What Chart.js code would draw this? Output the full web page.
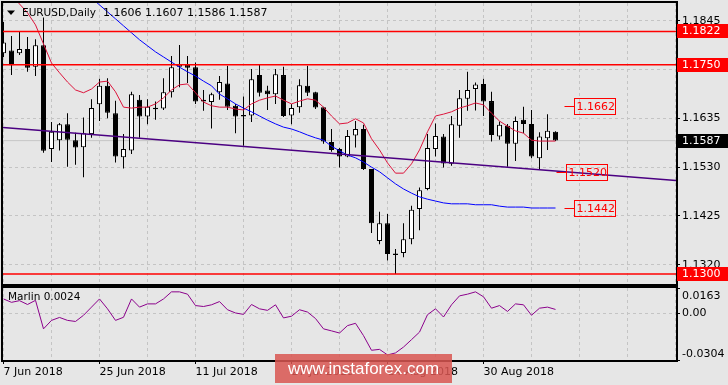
<!DOCTYPE html>
<html>
<head>
<meta charset="utf-8">
<script src="https://cdn.jsdelivr.net/npm/chart.js@4.4.1/dist/chart.umd.min.js"></script>
<style>
  body { margin: 0; background: #e6e6e6; }
  #page { position: relative; width: 728px; height: 385px; overflow: hidden; background: #e6e6e6; }
  #priceBox { position: absolute; left: 0; top: 0; }
  #marlinBox { position: absolute; left: 0; top: 286px; }
  #stamp {
    position: absolute; left: 275px; top: 354px; width: 177px; height: 29px;
    background: rgba(216, 86, 82, 0.86); color: #fff;
    font: 17px "Liberation Sans", sans-serif; line-height: 29px; text-align: center;
  }
</style>
</head>
<body>
<div id="page">
  <div id="priceBox"><canvas id="priceChart" width="728" height="286"></canvas></div>
  <div id="marlinBox"><canvas id="marlinChart" width="728" height="99"></canvas></div>
  <div id="stamp">www.instaforex.com</div>
</div>
<script>
Chart.defaults.font.family = "'DejaVu Sans', sans-serif";
Chart.defaults.font.size = 11;
Chart.defaults.color = '#000';

// DATA - daily candles, 7 Jun 2018 .. 12 Sep 2018
const opens = [
  1.1775, 1.1781, 1.1775, 1.1784, 1.1746, 1.1792, 1.1569, 1.1588, 1.1622, 1.1588,
  1.1573, 1.1601, 1.1665, 1.1705, 1.1646, 1.1551, 1.1566, 1.1675, 1.1639, 1.1657,
  1.1656, 1.1691, 1.1746, 1.1750, 1.1745, 1.1675, 1.1670, 1.1691, 1.1710, 1.1662,
  1.1642, 1.1641, 1.1728, 1.1695, 1.1687, 1.1728, 1.1641, 1.1659, 1.1705, 1.1691,
  1.1659, 1.1584, 1.1569, 1.1553, 1.1598, 1.1612, 1.1526, 1.1371, 1.1409, 1.1342,
  1.1345, 1.1375, 1.1440, 1.1483, 1.1569, 1.1596, 1.1537, 1.1619, 1.1677, 1.1698,
  1.1709, 1.1672, 1.1596, 1.1619, 1.1580, 1.1632, 1.1623, 1.1549, 1.1592, 1.1606
];
const highs = [
  1.1842, 1.1812, 1.1821, 1.1810, 1.1805, 1.1852, 1.1627, 1.1625, 1.1646, 1.1604,
  1.1637, 1.1676, 1.1720, 1.1721, 1.1673, 1.1601, 1.1692, 1.1685, 1.1676, 1.1671,
  1.1721, 1.1769, 1.1793, 1.1769, 1.1755, 1.1696, 1.1690, 1.1726, 1.1748, 1.1666,
  1.1682, 1.1741, 1.1750, 1.1705, 1.1741, 1.1746, 1.1666, 1.1719, 1.1748, 1.1692,
  1.1660, 1.1612, 1.1571, 1.1610, 1.1629, 1.1621, 1.1526, 1.1434, 1.1429, 1.1354,
  1.1409, 1.1447, 1.1486, 1.1601, 1.1624, 1.1601, 1.1640, 1.1696, 1.1735, 1.1712,
  1.1720, 1.1692, 1.1628, 1.1623, 1.1639, 1.1660, 1.1653, 1.1605, 1.1644, 1.1607
];
const lows = [
  1.1767, 1.1728, 1.1771, 1.1735, 1.1726, 1.1561, 1.1541, 1.1566, 1.1531, 1.1535,
  1.1508, 1.1593, 1.1629, 1.1635, 1.1540, 1.1527, 1.1558, 1.1593, 1.1622, 1.1632,
  1.1653, 1.1680, 1.1702, 1.1711, 1.1666, 1.1651, 1.1613, 1.1675, 1.1653, 1.1603,
  1.1576, 1.1627, 1.1682, 1.1653, 1.1666, 1.1638, 1.1622, 1.1647, 1.1683, 1.1655,
  1.1580, 1.1563, 1.1529, 1.1551, 1.1572, 1.1524, 1.1388, 1.1364, 1.1329, 1.1300,
  1.1336, 1.1364, 1.1394, 1.1480, 1.1553, 1.1529, 1.1533, 1.1593, 1.1651, 1.1652,
  1.1640, 1.1585, 1.1589, 1.1531, 1.1543, 1.1603, 1.1549, 1.1524, 1.1567, 1.1586
];
const closes = [
  1.1798, 1.1749, 1.1784, 1.1744, 1.1792, 1.1565, 1.1606, 1.1622, 1.1589, 1.1572,
  1.1603, 1.1657, 1.1705, 1.1647, 1.1553, 1.1569, 1.1687, 1.1639, 1.1660, 1.1655,
  1.1691, 1.1745, 1.1751, 1.1744, 1.1671, 1.1671, 1.1687, 1.1713, 1.1660, 1.1639,
  1.1639, 1.1719, 1.1690, 1.1687, 1.1730, 1.1640, 1.1657, 1.1706, 1.1690, 1.1658,
  1.1585, 1.1567, 1.1553, 1.1597, 1.1612, 1.1526, 1.1409, 1.1409, 1.1343, 1.1343,
  1.1375, 1.1438, 1.1480, 1.1571, 1.1597, 1.1538, 1.1622, 1.1678, 1.1696, 1.1708,
  1.1671, 1.1599, 1.1621, 1.1580, 1.1629, 1.1623, 1.1553, 1.1596, 1.1608, 1.1587
];

// moving averages as drawn on the chart
const redMA = [
  1.1918, 1.1900, 1.1881, 1.1862, 1.1836, 1.1795, 1.1754, 1.1733, 1.1713, 1.1696,
  1.1690, 1.1698, 1.1713, 1.1715, 1.1692, 1.1659, 1.1657, 1.1659, 1.1659, 1.1666,
  1.1679, 1.1696, 1.1707, 1.1709, 1.1690, 1.1670, 1.1662, 1.1659, 1.1659, 1.1655,
  1.1653, 1.1666, 1.1674, 1.1679, 1.1683, 1.1674, 1.1666, 1.1672, 1.1677, 1.1674,
  1.1659, 1.1640, 1.1623, 1.1625, 1.1634, 1.1625, 1.1591, 1.1567, 1.1539, 1.1517,
  1.1517, 1.1537, 1.1567, 1.1606, 1.1640, 1.1644, 1.1649, 1.1657, 1.1662, 1.1668,
  1.1664, 1.1646, 1.1629, 1.1618, 1.1608, 1.1603, 1.1588, 1.1586, 1.1586, 1.1586
];
const blueMA = [
  1.2060, 1.2044, 1.2029, 1.2014, 1.1999, 1.1984, 1.1969, 1.1954, 1.1939, 1.1924,
  1.1909, 1.1894, 1.1879, 1.1864, 1.1849, 1.1834, 1.1819, 1.1804, 1.1791, 1.1778,
  1.1767, 1.1756, 1.1745, 1.1735, 1.1726, 1.1715, 1.1705, 1.1687, 1.1677, 1.1666,
  1.1657, 1.1649, 1.1640, 1.1631, 1.1623, 1.1616, 1.1612, 1.1606, 1.1599, 1.1593,
  1.1588, 1.1575, 1.1565, 1.1556, 1.1550, 1.1541, 1.1530, 1.1520, 1.1507, 1.1494,
  1.1483, 1.1474, 1.1466, 1.1461, 1.1457, 1.1453, 1.1451, 1.1451, 1.1451, 1.1449,
  1.1449, 1.1449, 1.1446, 1.1444, 1.1444, 1.1444, 1.1442, 1.1442, 1.1442, 1.1442
];

// Marlin oscillator
const marlin = [
  0.0092, 0.0070, 0.0081, 0.0056, 0.0083, -0.0102, -0.0047, -0.0028, -0.0047, -0.0054,
  -0.0014, 0.0039, 0.0092, 0.0028, -0.0047, -0.0027, 0.0092, 0.0039, 0.0060, 0.0060,
  0.0092, 0.0138, 0.0138, 0.0123, 0.0049, 0.0043, 0.0054, 0.0075, 0.0022, 0.0001,
  -0.0008, 0.0056, 0.0028, 0.0018, 0.0054, -0.0031, -0.0020, 0.0022, 0.0007, -0.0035,
  -0.0102, -0.0115, -0.0129, -0.0081, -0.0066, -0.0146, -0.0241, -0.0235, -0.0271, -0.0258,
  -0.0220, -0.0172, -0.0123, -0.0010, 0.0028, -0.0025, 0.0054, 0.0112, 0.0123, 0.0138,
  0.0106, 0.0032, 0.0049, 0.0011, 0.0060, 0.0054, -0.0014, 0.0032, 0.0039, 0.0024
];

const levelPrices = [1.1822, 1.1750, 1.1300];
const lastPrice = 1.1587;
const trendBars = [-0.44, 84.06];
const trendPrices = [1.1616, 1.1501];
const markPrices = [1.1662, 1.1520, 1.1442];
const priceTicks = [1.1320, 1.1425, 1.1530, 1.1635, 1.1740, 1.1845];
const marlinTicks = [-0.0304, 0, 0.0163];
const dateLabels = ['7 Jun 2018', '25 Jun 2018', '11 Jul 2018', '27 Jul 2018', '14 Aug 2018', '30 Aug 2018'];
const dateBars = [0, 12, 24, 36, 48, 60];
const gridBars = [0, 6, 12, 18, 24, 30, 36, 42, 48, 54, 60, 66, 72, 78, 84];
const ohlcTitle = '1.1606 1.1607 1.1586 1.1587';
const marlinTitle = 'Marlin 0.0024';

// view window
const xMin = -0.0625, xMax = 84.0625;
const priceMin = 1.12785, priceMax = 1.18831;
const GRID = '#c4c4c4';

// helpers
const hLine = (price, color, width, order) => ({
  type: 'line', data: [{ x: -1, y: price }, { x: 86, y: price }],
  borderColor: color, borderWidth: width, pointRadius: 0, order: order
});

// no extra padding for edge labels, the plot area is fixed
const fixWidth = s => {
  s.width = 52;
  s.paddingTop = 0; s.paddingBottom = 0; s.paddingLeft = 0; s.paddingRight = 0;
};

const framePlugin = {
  id: 'frame',
  afterDatasetsDraw(chart) {
    const { ctx, chartArea: a } = chart;
    ctx.save();
    ctx.strokeStyle = '#000';
    ctx.lineWidth = 2;
    ctx.strokeRect(a.left - 1, a.top - 1, a.right - a.left + 2, a.bottom - a.top + 2);
    ctx.restore();
  }
};

const tagPlugin = {
  id: 'tags',
  afterDraw(chart) {
    const ctx = chart.ctx;
    const xs = chart.scales.x, ys = chart.scales.y;
    ctx.save();
    ctx.textBaseline = 'middle';

    // title
    ctx.fillStyle = '#000';
    ctx.beginPath();
    ctx.moveTo(7, 10.5); ctx.lineTo(15, 10.5); ctx.lineTo(11, 15);
    ctx.closePath(); ctx.fill();
    ctx.font = "10.5px 'DejaVu Sans'";
    ctx.fillText('EURUSD,Daily', 22, 13);
    ctx.font = "11px 'DejaVu Sans'";
    ctx.fillText(ohlcTitle, 103, 13);

    // right side price tags
    const rightTag = (price, bg) => {
      const y = Math.round(ys.getPixelForValue(price));
      ctx.fillStyle = bg;
      ctx.fillRect(677, y - 7, 51, 14);
      ctx.fillStyle = '#fff';
      ctx.fillText(price.toFixed(4), 682, y + 0.5);
    };
    levelPrices.forEach(p => rightTag(p, '#ff0000'));
    rightTag(lastPrice, '#000');

    // boxed labels inside the chart
    const boxStart = [71.35, 70.31, 71.35];
    markPrices.forEach((p, k) => {
      const y = Math.round(ys.getPixelForValue(p)) + 0.5;
      const bx = Math.round(xs.getPixelForValue(boxStart[k])) + 0.5;
      ctx.strokeStyle = '#ff0000';
      ctx.lineWidth = 1;
      ctx.beginPath();
      ctx.moveTo(bx - 10, y); ctx.lineTo(bx, y);
      ctx.stroke();
      ctx.strokeRect(bx, y - 8, 41, 16);
      ctx.fillStyle = '#ff0000';
      ctx.fillText(p.toFixed(4), bx + 2, y + 0.5);
    });
    ctx.restore();
  }
};

const marlinTextPlugin = {
  id: 'marlinText',
  afterDraw(chart) {
    const ctx = chart.ctx;
    const a = chart.chartArea, ys = chart.scales.y;
    ctx.save();
    ctx.textBaseline = 'middle';
    ctx.fillStyle = '#000';
    ctx.font = "10.5px 'DejaVu Sans'";
    ctx.fillText(marlinTitle, 8, 11.5);
    ctx.font = "11px 'DejaVu Sans'";
    ctx.fillText(marlinTicks[2].toFixed(4), 682, a.top + 8);
    ctx.fillText('0.00', 682, ys.getPixelForValue(0) + 0.5);
    ctx.fillText(marlinTicks[0].toFixed(4), 682, a.bottom - 6);
    ctx.restore();
  }
};

// PRICE CHART
const wickData = opens.map((o, i) => ({ x: i, y: [lows[i], highs[i]] }));
const bodyData = opens.map((o, i) => {
  let lo = Math.min(o, closes[i]), hi = Math.max(o, closes[i]);
  if (hi - lo < 0.0003) { const m = (hi + lo) / 2; lo = m - 0.00015; hi = m + 0.00015; }
  return { x: i, y: [lo, hi] };
});
const bodyColors = opens.map((o, i) => closes[i] >= o ? '#ffffff' : '#000000');

const priceChart = new Chart(document.getElementById('priceChart'), {
  type: 'bar',
  data: {
    datasets: [
      hLine(lastPrice, '#c6c6c6', 1, 9),
      {
        type: 'bar', data: wickData, backgroundColor: '#000', borderWidth: 0,
        barThickness: 1, grouped: false, inflateAmount: 0, order: 6
      },
      {
        type: 'bar', data: bodyData, backgroundColor: bodyColors, borderColor: '#000',
        borderWidth: 1, borderSkipped: false, barThickness: 5, grouped: false,
        inflateAmount: 0, order: 5
      },
      {
        type: 'line', data: blueMA.map((v, i) => ({ x: i, y: v })),
        borderColor: '#0000ff', borderWidth: 1, pointRadius: 0, tension: 0, order: 4
      },
      {
        type: 'line', data: redMA.map((v, i) => ({ x: i, y: v })),
        borderColor: '#dc143c', borderWidth: 1, pointRadius: 0, tension: 0, order: 3
      },
      {
        type: 'line', data: trendBars.map((b, i) => ({ x: b, y: trendPrices[i] })),
        borderColor: '#4b0082', borderWidth: 1.5, pointRadius: 0, order: 2
      },
      ...levelPrices.map(p => hLine(p, '#ff0000', 1.5, 1))
    ]
  },
  options: {
    responsive: false, devicePixelRatio: 1, animation: false, events: [],
    layout: { padding: { left: 3, top: 3, right: 0, bottom: 2 } },
    plugins: { legend: { display: false }, tooltip: { enabled: false } },
    scales: {
      x: {
        type: 'linear', min: xMin, max: xMax, offset: false,
        afterBuildTicks: s => { s.ticks = gridBars.map(v => ({ value: v })); },
        afterFit: s => { s.height = 0; s.paddingLeft = 0; s.paddingRight = 0; },
        ticks: { display: false },
        grid: { color: GRID, drawTicks: false, offset: false },
        border: { display: false, dash: [3, 3] }
      },
      y: {
        position: 'right', min: priceMin, max: priceMax,
        afterBuildTicks: s => { s.ticks = priceTicks.map(v => ({ value: v })); },
        afterFit: fixWidth,
        ticks: { padding: 2, callback: v => v.toFixed(4) },
        grid: { color: GRID, tickLength: 4, tickColor: '#000', tickBorderDash: [] },
        border: { display: false, dash: [3, 3] }
      }
    }
  },
  plugins: [framePlugin, tagPlugin]
});

// MARLIN CHART
const marlinChart = new Chart(document.getElementById('marlinChart'), {
  type: 'line',
  data: {
    datasets: [{
      data: marlin.map((v, i) => ({ x: i, y: v })),
      borderColor: '#8b008b', borderWidth: 1, pointRadius: 0, tension: 0
    }]
  },
  options: {
    responsive: false, devicePixelRatio: 1, animation: false, events: [],
    layout: { padding: { left: 3, top: 2, right: 0, bottom: 0 } },
    plugins: { legend: { display: false }, tooltip: { enabled: false } },
    scales: {
      x: {
        type: 'linear', min: xMin, max: xMax, offset: false,
        afterBuildTicks: s => { s.ticks = gridBars.map(v => ({ value: v })); },
        afterFit: s => { s.height = 25; s.paddingLeft = 0; s.paddingRight = 0; },
        ticks: {
          align: 'start', autoSkip: false, maxRotation: 0, padding: 2,
          callback: v => { const k = dateBars.indexOf(v); return k < 0 ? '' : dateLabels[k]; }
        },
        grid: {
          color: GRID, tickLength: 4, tickBorderDash: [],
          tickColor: c => (c.tick && dateBars.includes(c.tick.value)) ? '#000' : 'rgba(0,0,0,0)'
        },
        border: { display: false, dash: [3, 3] }
      },
      y: {
        position: 'right', min: marlinTicks[0], max: marlinTicks[2],
        afterBuildTicks: s => { s.ticks = marlinTicks.map(v => ({ value: v })); },
        afterFit: fixWidth,
        ticks: { display: false },
        grid: {
          color: c => (c.tick && c.tick.value === 0) ? GRID : 'rgba(0,0,0,0)',
          tickLength: 4, tickColor: '#000', tickBorderDash: []
        },
        border: { display: false, dash: [3, 3] }
      }
    }
  },
  plugins: [framePlugin, marlinTextPlugin]
});
</script>
</body>
</html>
